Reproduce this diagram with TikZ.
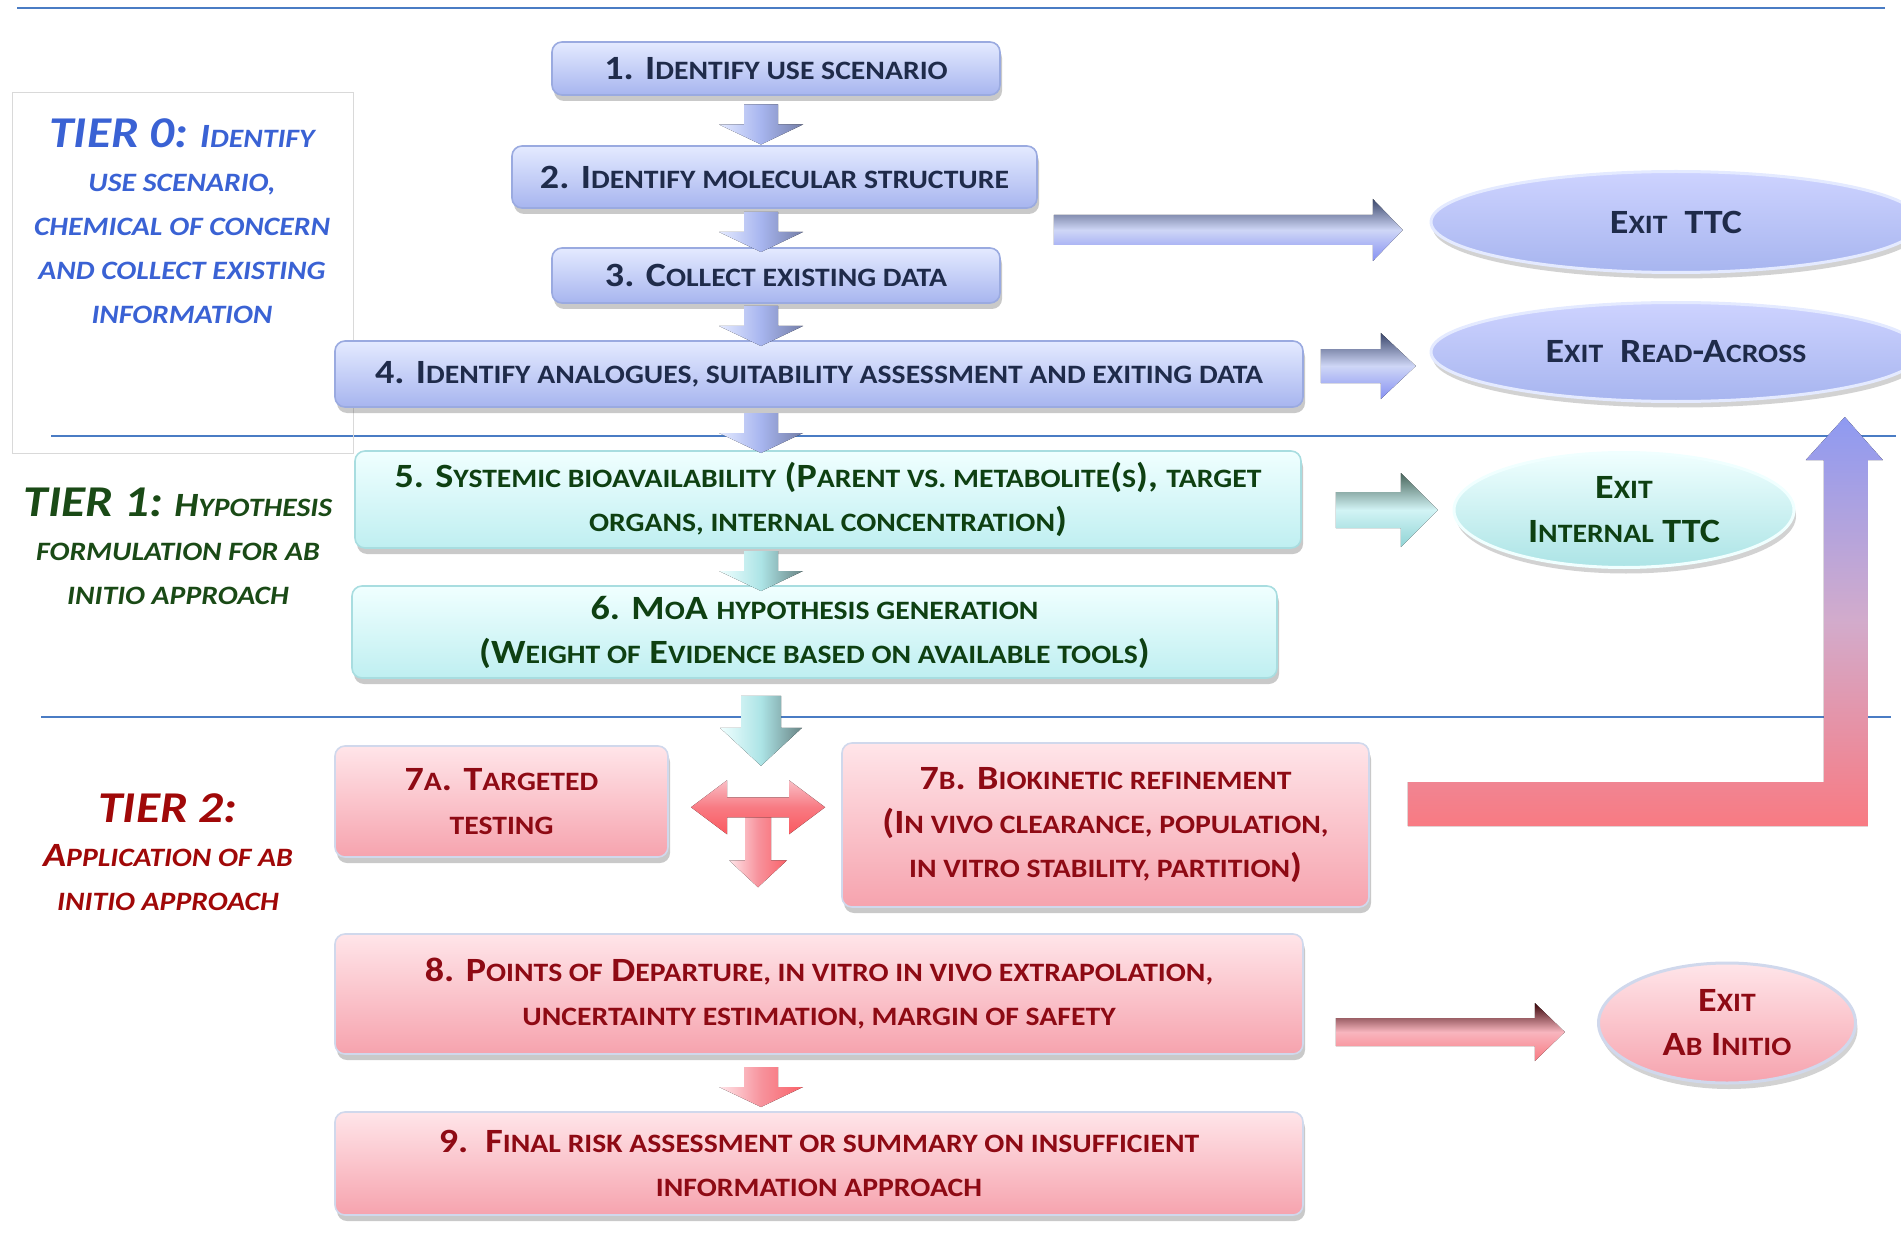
\documentclass[tikz,border=0pt]{standalone}
\usepackage{fontspec}
\setmainfont{Carlito}[FakeStretch=1.12]
\usepackage{graphicx}
\usetikzlibrary{shapes.geometric,shadows,calc}

\definecolor{sepline}{HTML}{4A7CC4}
\definecolor{framegray}{HTML}{D9D9D9}
\definecolor{tierblue}{HTML}{3A62D4}
\definecolor{tiergreen}{HTML}{1A4A16}
\definecolor{tierred}{HTML}{A00808}
\definecolor{navytext}{HTML}{1F2B4A}
\definecolor{greentext}{HTML}{0E4012}
\definecolor{redtext}{HTML}{8E0A14}
\definecolor{bluetop}{HTML}{E4EAFF}
\definecolor{bluebot}{HTML}{A7B5EF}
\definecolor{bluerim}{HTML}{9AAAE0}
\definecolor{cyantop}{HTML}{F0FFFF}
\definecolor{cyanbot}{HTML}{BFEFF1}
\definecolor{cyanrim}{HTML}{A8DDE0}
\definecolor{pinktop}{HTML}{FFE5E9}
\definecolor{pinkbot}{HTML}{F6A3AE}
\definecolor{pinkrim}{HTML}{D0D8EC}

\newcommand\lc[1]{\scalebox{.78}{\MakeUppercase{#1}}}

\tikzset{
	tierlabel/.style={align=center,font=\fontsize{17}{22}\selectfont\bfseries\itshape},
	flowbox/.style={rounded corners=5pt,align=center,font=\fontsize{17}{22}\selectfont\bfseries,line width=.8pt,inner sep=3pt,
		drop shadow={shadow xshift=1pt,shadow yshift=-3pt,opacity=.3,fill=black!70}},
	bluebox/.style={flowbox,top color=bluetop,bottom color=bluebot,draw=bluerim,text=navytext},
	cyanbox/.style={flowbox,top color=cyantop,bottom color=cyanbot,draw=cyanrim,text=greentext},
	pinkbox/.style={flowbox,top color=pinktop,bottom color=pinkbot,draw=pinkrim,text=redtext},
	exitnode/.style={ellipse,align=center,inner sep=0pt,font=\fontsize{17}{22}\selectfont\bfseries,line width=1.5pt,
		drop shadow={shadow xshift=1pt,shadow yshift=-3pt,opacity=.25,fill=black!70}},
	blueright/.style={top color=navytext!80!bluebot,bottom color=bluebot!80!blue,middle color=bluebot!55!white},
	cyanright/.style={top color=greentext!40!cyanbot!60!black,bottom color=cyanbot!75!teal,middle color=cyanbot!70!white},
	pinkright/.style={top color=redtext!40!black,bottom color=pinkbot!75!red,middle color=pinkbot!80!white},
	bluedown/.style={left color=bluetop,right color=bluebot!70!black,middle color=bluebot},
	cyandown/.style={left color=cyantop,right color=cyanbot!55!black,middle color=cyanbot!90!teal},
	pinkdown/.style={left color=pinktop,right color=pinkbot!60!red,middle color=pinkbot!90!red},
	pinkcross/.style={top color=pinkbot!70!white,bottom color=pinkbot!55!red,middle color=pinkbot!75!red}
}

\begin{document}
\begin{tikzpicture}[x=0.5pt,y=-0.5pt]
	\useasboundingbox (0,0) rectangle (1901,1246);
	\draw[sepline,line width=1.3pt] (17,8) -- (1885,8);
	\draw[sepline,line width=1.3pt] (51,436) -- (1896,436);
	\draw[sepline,line width=1.3pt] (41,717) -- (1891,717);
	\node[draw=framegray,line width=.5pt,minimum width=170.5pt,minimum height=180pt] (t0frame) at (182.5,273) {};

	\node[tierlabel,text=tierblue] (t0) at (182,221)
		{{\fontsize{22}{26}\selectfont TIER 0:} I\lc{dentify}\\\lc{use scenario,}\\\lc{chemical of concern}\\\lc{and collect existing}\\\lc{information}};
	\node[tierlabel,text=tiergreen] (t1) at (178,546)
		{{\fontsize{22}{26}\selectfont TIER 1:} H\lc{ypothesis}\\\lc{formulation for ab}\\\lc{initio approach}};
	\node[tierlabel,text=tierred] (t2) at (168,852)
		{{\fontsize{22}{26}\selectfont TIER 2:}\\A\lc{pplication of ab}\\\lc{initio approach}};

	\node[bluebox,minimum width=224pt,minimum height=26.5pt] (b1) at (776,68.5) {1. I\lc{dentify use scenario}};
	\node[bluebox,minimum width=262.5pt,minimum height=31pt] (b2) at (774.5,177) {2. I\lc{dentify molecular structure}};
	\node[bluebox,minimum width=224pt,minimum height=27.5pt] (b3) at (776,275.5) {3. C\lc{ollect existing data}};
	\node[bluebox,minimum width=484pt,minimum height=33pt] (b4) at (819,374)
		{4. I\lc{dentify analogues, suitability assessment and exiting data}};
	\node[cyanbox,minimum width=473pt,minimum height=48.5pt] (b5) at (828,499.5)
		{5. S\lc{ystemic bioavailability} (P\lc{arent vs. metabolite}(\lc{s}), \lc{target}\\\lc{organs, internal concentration})};
	\node[cyanbox,minimum width=462.5pt,minimum height=46pt] (b6) at (814.5,632)
		{6. M\lc{o}A \lc{hypothesis generation}\\(W\lc{eight of} E\lc{vidence based on available tools})};
	\node[pinkbox,minimum width=166.5pt,minimum height=55.5pt] (b7a) at (501.5,801.5) {7\lc{a}. T\lc{argeted}\\\lc{testing}};
	\node[pinkbox,minimum width=263.5pt,minimum height=82pt] (b7b) at (1105.5,825)
		{7\lc{b}. B\lc{iokinetic refinement}\\(I\lc{n vivo clearance, population,}\\\lc{in vitro stability, partition})};
	\node[pinkbox,minimum width=484pt,minimum height=60pt] (b8) at (819,994)
		{8. P\lc{oints of} D\lc{eparture, in vitro in vivo extrapolation,}\\\lc{uncertainty estimation, margin of safety}};
	\node[pinkbox,minimum width=484pt,minimum height=51.5pt] (b9) at (819,1163.5)
		{9.\ \ F\lc{inal risk assessment or summary on insufficient}\\\lc{information approach}};

	\node[exitnode,top color=bluetop!90!blue,bottom color=bluebot,draw=bluetop,text=navytext,minimum width=245pt,minimum height=50.5pt] (ttc) at (1676,222) {E\lc{xit}\enspace TTC};
	\node[exitnode,top color=bluetop!90!blue,bottom color=bluebot,draw=bluetop,text=navytext,minimum width=245pt,minimum height=49.5pt] (ra) at (1676,352) {E\lc{xit}\enspace R\lc{ead}-A\lc{cross}};
	\node[exitnode,top color=cyantop,bottom color=cyanbot!90!teal,draw=cyantop,text=greentext,minimum width=170pt,minimum height=57.5pt] (itc) at (1624,510) {E\lc{xit}\\I\lc{nternal} TTC};
	\node[exitnode,top color=pinktop,bottom color=pinkbot,draw=pinkrim,text=redtext,minimum width=128.5pt,minimum height=60pt] (abi) at (1727,1023) {E\lc{xit}\\A\lc{b} I\lc{nitio}};

	\coordinate (spine) at (761,0);
	\foreach \a/\b/\c in {b1/b2/bluedown,b2/b3/bluedown,b3/b4/bluedown,b4/b5/bluedown,b5/b6/cyandown,b8/b9/pinkdown}
		\fill[\c] ($(spine |- \a.south)!.5!(spine |- \b.north)$) ++(-17,-16) -- ++(0,20) -- ++(-25,0) -- ++(42,20) -- ++(42,-20) -- ++(-25,0) -- ++(0,-20) -- cycle;
	\fill[cyandown] (spine |- b6.south) ++(-20,17) -- ++(0,32) -- ++(-21,0) -- ++(41,38) -- ++(41,-38) -- ++(-21,0) -- ++(0,-32) -- cycle;

	\coordinate (tee) at ($(b7a.east)!.5!(b7b.west)$);
	\fill[pinkdown] (tee) ++(-10,-6) -- ++(0,53) -- ++(-16,0) -- ++(29,27) -- ++(29,-27) -- ++(-16,0) -- ++(0,-53) -- cycle;
	\fill[pinkcross] (tee) ++(-64,-6) -- ++(36,-27) -- ++(0,17) -- ++(62,0) -- ++(0,-17) -- ++(36,27) -- ++(-36,27) -- ++(0,-17) -- ++(-62,0) -- ++(0,17) -- cycle;

	\fill[blueright] (b2.east |- ttc) ++(16,-7) -- ++(319,0) -- ++(0,-16) -- ++(30,31) -- ++(-30,31) -- ++(0,-16) -- ++(-319,0) -- cycle;
	\fill[blueright] (b4.east |- ra) ++(17,-3) -- ++(60,0) -- ++(0,-16) -- ++(35,33) -- ++(-35,33) -- ++(0,-16) -- ++(-60,0) -- cycle;
	\fill[cyanright] (b5.east |- itc) ++(34,-18) -- ++(65,0) -- ++(0,-19) -- ++(37,37) -- ++(-37,37) -- ++(0,-19) -- ++(-65,0) -- cycle;
	\fill[pinkright] (b8.east |- abi) ++(32,-5) -- ++(199,0) -- ++(0,-15) -- ++(30,29) -- ++(-30,29) -- ++(0,-15) -- ++(-199,0) -- cycle;

	\fill[top color=bluebot!85!blue,bottom color=pinkbot!75!red,middle color=pinkbot!55!bluebot] ([shift={(38,-43)}]b7b.east) -- ++(416,0) -- ++(0,-322) -- ++(-18,0) -- ++(39,-43) -- ++(38,43) -- ++(-15,0) -- ++(0,366) -- ++(-460,0) -- cycle;
\end{tikzpicture}
\end{document}
